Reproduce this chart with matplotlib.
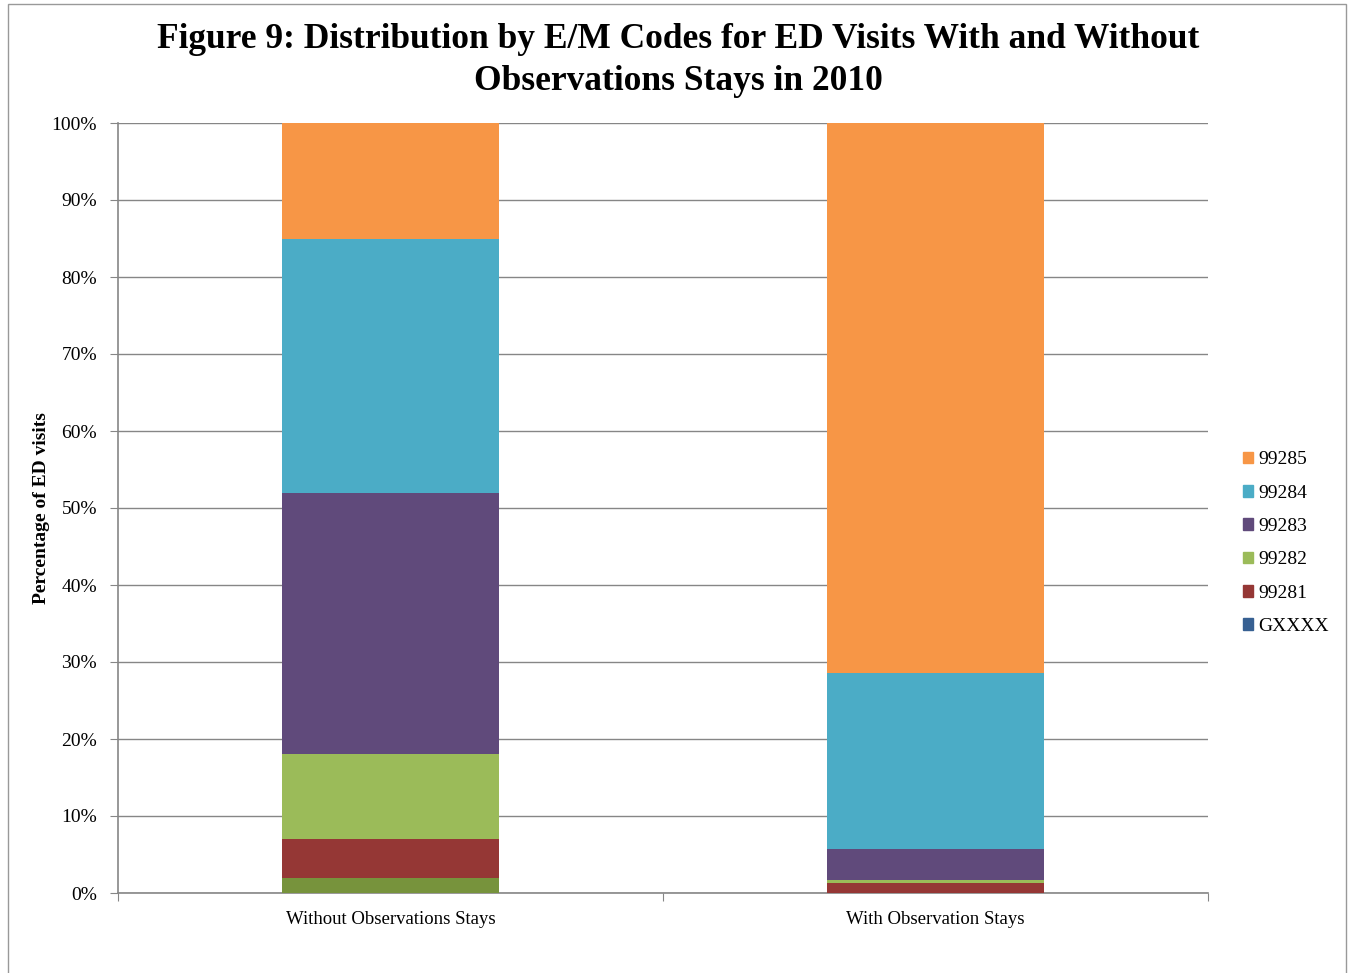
import numpy as np
import matplotlib.pyplot as plt
import matplotlib.patches as mpatches

plt.rcParams['font.family'] = ['Liberation Serif', 'DejaVu Serif']

categories = ["Without Observations Stays", "With Observation Stays"]
series = ["GXXXX", "99281", "99282", "99283", "99284", "99285"]
values = {
    "GXXXX": [2.0, 0.0],
    "99281": [5.0, 1.3],
    "99282": [11.0, 0.4],
    "99283": [34.0, 4.0],
    "99284": [33.0, 22.9],
    "99285": [15.0, 71.4],
}
colors = {
    "GXXXX": "#376092",
    "99281": "#953735",
    "99282": "#9BBB59",
    "99283": "#604A7B",
    "99284": "#4BACC6",
    "99285": "#F79646",
}
# first bar's GXXXX segment is drawn in olive in the original
gxxxx_bar_colors = ["#77933C", "#376092"]

fig = plt.figure(figsize=(13.48, 9.73), dpi=100)
ax = fig.add_axes([118/1348, 1 - 893/973, 1090/1348, 770/973])

x = np.arange(len(categories))
bottom = np.zeros(len(categories))
handles = {}
for s in series:
    vals = np.array(values[s])
    c = gxxxx_bar_colors if s == "GXXXX" else colors[s]
    ax.bar(x, vals, width=0.397, bottom=bottom, color=c, zorder=3)
    handles[s] = mpatches.Patch(color=colors[s], label=s)
    bottom += vals

ax.set_xlim(-0.5, 1.5)
ax.set_ylim(0, 100)
ax.set_yticks(np.arange(0, 101, 10))
ax.set_yticklabels([f"{v}%" for v in range(0, 101, 10)], fontsize=14)
ax.set_xticks([-0.5, 0.5, 1.5])
ax.set_xticklabels([])
ax.set_xticks(x, minor=True)
ax.set_xticklabels(categories, minor=True, fontsize=13.5)
ax.tick_params(axis='x', which='minor', length=0, pad=13)
ax.tick_params(axis='x', which='major', direction='out', length=6, color='#868686')
ax.tick_params(axis='y', direction='out', length=6, color='#868686', pad=9)
ax.grid(axis='y', color='#868686', linewidth=1, zorder=0)
for side in ['top', 'right']:
    ax.spines[side].set_visible(False)
for side in ['left', 'bottom']:
    ax.spines[side].set_color('#868686')
    ax.spines[side].set_linewidth(1.2)

ax.set_ylabel("Percentage of ED visits", fontsize=14, fontweight='bold', labelpad=1)

fig.text(0.503, 1 - 40/973, "Figure 9: Distribution by E/M Codes for ED Visits With and Without",
         ha='center', va='center', fontsize=25.5, fontweight='bold')
fig.text(0.503, 1 - 82/973, "Observations Stays in 2010",
         ha='center', va='center', fontsize=25.5, fontweight='bold')

leg = fig.legend(handles=[handles[s] for s in series[::-1]],
                 loc='upper left', bbox_to_anchor=(1225/1348, 1 - 434/973),
                 frameon=False, fontsize=14, handlelength=0.55, handleheight=0.55,
                 handletextpad=0.25, labelspacing=0.84)

fig.patches.append(mpatches.Rectangle((8/1348, -0.01), 1346/1348 - 8/1348, 1 - 4/973 + 0.01,
                                      transform=fig.transFigure, fill=False,
                                      edgecolor='#999999', linewidth=1))

fig.savefig("out.png", dpi=100)
